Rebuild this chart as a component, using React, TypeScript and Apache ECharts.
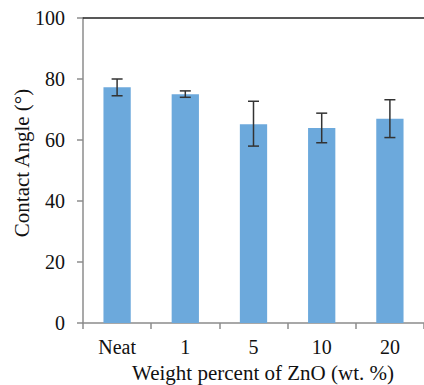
import React, { useEffect, useRef } from "react";
import * as echarts from "echarts";

const categories = ["Neat", "1", "5", "10", "20"];
const contactAngle = [77.3, 75.0, 65.2, 63.9, 67.0];
const errorLow = [74.5, 74.0, 58.0, 59.1, 60.8];
const errorHigh = [80.0, 76.1, 72.7, 68.8, 73.2];
const yTicks = { min: 0, max: 100, interval: 20 };

export default function App() {
  const ref = useRef<HTMLDivElement>(null);
  useEffect(() => {
    const chart = echarts.init(ref.current!, null, { renderer: "svg" });
    const font = "serif";
    const errData = categories.map((_, i) => [i, errorLow[i], errorHigh[i]]);
    chart.setOption({
      animation: false,
      textStyle: { fontFamily: font },
      grid: { left: 83, top: 18, width: 342, height: 305, containLabel: false },
      xAxis: [
        {
          type: "category",
          data: categories,
          axisLine: { lineStyle: { color: "#8c8c8c", width: 1.5 } },
          axisTick: { show: true, length: 6, lineStyle: { color: "#8c8c8c", width: 1.5 } },
          axisLabel: { color: "#111", fontSize: 20, fontFamily: font, margin: 14 },
        },
        {
          type: "category",
          data: categories,
          position: "top",
          axisLine: { lineStyle: { color: "#222", width: 1.5 } },
          axisTick: { show: false },
          axisLabel: { show: false },
        },
      ],
      yAxis: [
        {
          type: "value",
          min: yTicks.min,
          max: yTicks.max,
          interval: yTicks.interval,
          splitLine: { show: false },
          axisLine: { show: true, lineStyle: { color: "#8c8c8c", width: 1.5 } },
          axisTick: { show: true, length: 6, lineStyle: { color: "#8c8c8c", width: 1.5 } },
          axisLabel: { color: "#111", fontSize: 20, fontFamily: font, margin: 18 },
        },
      ],
      graphic: [
        {
          type: "text",
          x: 263,
          y: 373,
          style: {
            text: "Weight percent of ZnO (wt. %)",
            fontSize: 21,
            fontFamily: font,
            fill: "#111",
            align: "center",
            verticalAlign: "middle",
          },
        },
        {
          type: "text",
          x: 22,
          y: 163,
          rotation: Math.PI / 2,
          style: {
            text: "Contact Angle (°)",
            fontSize: 21,
            fontFamily: font,
            fill: "#111",
            align: "center",
            verticalAlign: "middle",
          },
        },
      ],
      series: [
        {
          type: "bar",
          data: contactAngle,
          barWidth: "40%",
          itemStyle: { color: "#6ca9dc" },
        },
        {
          type: "custom",
          data: errData,
          z: 10,
          renderItem: (params: any, api: any) => {
            const i = api.value(0);
            const lo = api.coord([i, api.value(1)]);
            const hi = api.coord([i, api.value(2)]);
            const hw = 5.5;
            const style = { stroke: "#333", lineWidth: 1.5 };
            return {
              type: "group",
              children: [
                { type: "line", shape: { x1: lo[0], y1: lo[1], x2: hi[0], y2: hi[1] }, style },
                { type: "line", shape: { x1: hi[0] - hw, y1: hi[1], x2: hi[0] + hw, y2: hi[1] }, style },
                { type: "line", shape: { x1: lo[0] - hw, y1: lo[1], x2: lo[0] + hw, y2: lo[1] }, style },
              ],
            };
          },
        },
      ],
    });
    return () => chart.dispose();
  }, []);
  return (
    <div
      ref={ref}
      style={{ position: "fixed", left: 0, top: 0, width: 424, height: 385, background: "#fff" }}
    />
  );
}
